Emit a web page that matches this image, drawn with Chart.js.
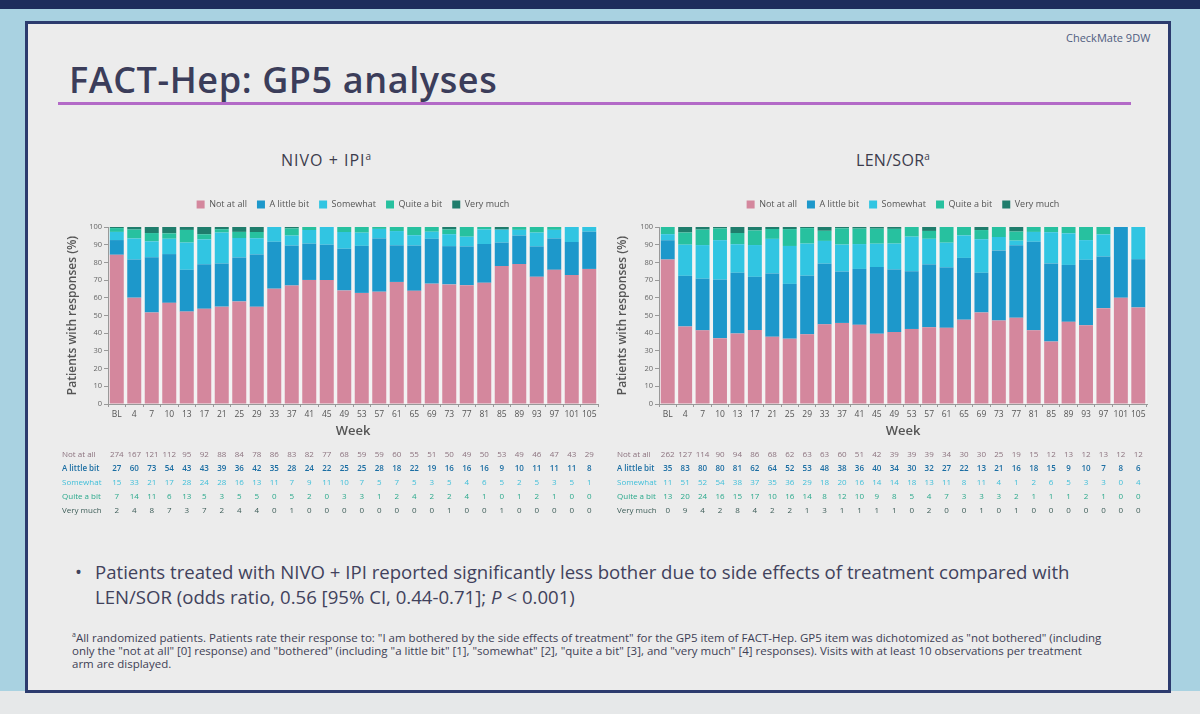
<!DOCTYPE html>
<html>
<head>
<meta charset="utf-8">
<script src="https://cdn.jsdelivr.net/npm/chart.js@4.4.1/dist/chart.umd.min.js"></script>
<style>
  html, body { margin: 0; padding: 0; }
  body { width: 1200px; height: 714px; position: relative; overflow: hidden;
         background: #e6e8e9; font-family: "Open Sans", sans-serif; }
  #topband { position: absolute; left: 0; top: 0; width: 1200px; height: 9px; background: #1e2d5c; }
  #outer { position: absolute; left: 0; top: 9px; width: 1200px; height: 682px; background: #a9d2e1; }
  #slide { position: absolute; left: 25px; top: 21px; width: 1140px; height: 666px;
           border: 3px solid #2c3b6e; background: #ececec; }
  .txt { position: absolute; white-space: nowrap; }
  #brand { left: 1066px; top: 30px; font-size: 11px; color: #4f5d80; }
  #title { left: 69px; top: 55px; font-size: 36px; font-weight: 600; color: #3b3d5a; letter-spacing: 0.6px; }
  #rule { position: absolute; left: 58px; top: 102px; width: 1073px; height: 3px; background: #b36ac7; }
  .sub { top: 149px; font-size: 16px; color: #3c3c4c; }
  #subL { left: 281px; letter-spacing: 1px; }
  #subR { left: 856px; letter-spacing: 0.3px; }
  canvas { position: absolute; }
  #bullet { left: 75px; top: 559px; font-size: 18.6px; color: #41425c; line-height: 25px; }
  #bullet span { display: inline-block; width: 20px; }
  #foot { left: 72px; top: 628px; font-size: 11.5px; color: #3e3f55; line-height: 13px; }
</style>
</head>
<body>
<div id="topband"></div>
<div id="outer"></div>
<div id="slide"></div>
<div class="txt" id="brand">CheckMate 9DW</div>
<div class="txt" id="title">FACT-Hep: GP5 analyses</div>
<div id="rule"></div>
<div class="txt sub" id="subL">NIVO + IPI<sup style="font-size:10px">a</sup></div>
<div class="txt sub" id="subR">LEN/SOR<sup style="font-size:10px">a</sup></div>
<canvas id="chartL" style="left:30px; top:190px; width:580px; height:340px"></canvas>
<canvas id="chartR" style="left:590px; top:190px; width:575px; height:340px"></canvas>
<div class="txt" id="bullet"><span>•</span>Patients treated with NIVO + IPI reported significantly less bother due to side effects of treatment compared with<br><span></span>LEN/SOR (odds ratio, 0.56 [95% CI, 0.44-0.71]; <i>P</i> &lt; 0.001)</div>
<div class="txt" id="foot"><sup style="font-size:7px">a</sup>All randomized patients. Patients rate their response to: "I am bothered by the side effects of treatment" for the GP5 item of FACT-Hep. GP5 item was dichotomized as "not bothered" (including<br>only the "not at all" [0] response) and "bothered" (including "a little bit" [1], "somewhat" [2], "quite a bit" [3], and "very much" [4] responses). Visits with at least 10 observations per treatment<br>arm are displayed.</div>

<script>
const weeks = ['BL','4','7','10','13','17','21','25','29','33','37','41','45','49','53','57','61','65','69','73','77','81','85','89','93','97','101','105'];
const responses = ['Not at all','A little bit','Somewhat','Quite a bit','Very much'];
const barColors = ['#d4879d','#1d98cb','#31c5e2','#27c19f','#1f7d6c'];
const textColors = ['#8c737f','#1b6ea3','#3fbfd9','#2aa98c','#3d5d58'];

// patient counts per response, NIVO + IPI
const nivoNotAtAll = [274,167,121,112,95,92,88,84,78,86,83,82,77,68,59,59,60,55,51,50,49,50,53,49,46,47,43,29];
const nivoLittle   = [27,60,73,54,43,43,39,36,42,35,28,24,22,25,25,28,18,22,19,16,16,16,9,10,11,11,11,8];
const nivoSomewhat = [15,33,21,17,28,24,28,16,13,11,7,9,11,10,7,5,7,5,3,5,4,6,5,2,5,3,5,1];
const nivoQuite    = [7,14,11,6,13,5,3,5,5,0,5,2,0,3,3,1,2,4,2,2,4,1,0,1,2,1,0,0];
const nivoVery     = [2,4,8,7,3,7,2,4,4,0,1,0,0,0,0,0,0,0,0,1,0,0,1,0,0,0,0,0];

// patient counts per response, LEN/SOR
const lenNotAtAll = [262,127,114,90,94,86,68,62,63,63,60,51,42,39,39,39,34,30,30,25,19,15,12,13,12,13,12,12];
const lenLittle   = [35,83,80,80,81,62,64,52,53,48,38,36,40,34,30,32,27,22,13,21,16,18,15,9,10,7,8,6];
const lenSomewhat = [11,51,52,54,38,37,35,36,29,18,20,16,14,14,18,13,11,8,11,4,1,2,6,5,3,3,0,4];
const lenQuite    = [13,20,24,16,15,17,10,16,14,8,12,10,9,8,5,4,7,3,3,3,2,1,1,1,2,1,0,0];
const lenVery     = [0,9,4,2,8,4,2,2,1,3,1,1,1,1,0,2,0,0,1,0,1,0,0,0,0,0,0,0];

const FONT = '"Open Sans", sans-serif';

// share of patients per visit (100% stacked bars)
function asPercent(rows) {
  const totals = weeks.map((w, i) => rows.reduce((s, r) => s + r[i], 0));
  return rows.map(r => r.map((v, i) => v / totals[i] * 100));
}

const legendMargin = {
  id: 'legendMargin',
  beforeInit(chart) {
    const fit = chart.legend.fit;
    chart.legend.fit = function () {
      fit.bind(chart.legend)();
      this.height += 8;
    };
  }
};

// slightly lighter plot background so the gaps between bars read pale
const plotBg = {
  id: 'plotBg',
  beforeDatasetsDraw(chart) {
    const {ctx, chartArea: a} = chart;
    ctx.save();
    ctx.fillStyle = '#f3f3f3';
    ctx.fillRect(a.left + 1, a.top, a.right - a.left - 1, a.bottom - a.top);
    ctx.restore();
  }
};

// counts table drawn under the x axis, columns lined up with the bars
const countTable = {
  id: 'countTable',
  afterDraw(chart, args, opts) {
    const ctx = chart.ctx;
    const x = chart.scales.x;
    const base = chart.chartArea.bottom;
    ctx.save();
    ctx.textBaseline = 'middle';
    opts.rows.forEach((row, r) => {
      const y = base + 51 + r * 14;
      ctx.fillStyle = textColors[r];
      ctx.font = (r === 1 ? '600 ' : '') + '8px ' + FONT;
      ctx.textAlign = 'left';
      ctx.fillText(responses[r], opts.labelX, y);
      ctx.textAlign = 'center';
      row.forEach((v, i) => ctx.fillText(String(v), x.getPixelForValue(i), y));
    });
    ctx.restore();
  }
};

function makeChart(id, rows, padLeft, padRight, yWidth, labelX) {
  const pct = asPercent(rows);
  return new Chart(document.getElementById(id), {
    type: 'bar',
    data: {
      labels: weeks,
      datasets: responses.map((name, k) => ({
        label: name,
        data: pct[k],
        backgroundColor: barColors[k],
        borderWidth: 0,
        barPercentage: 0.8,
        categoryPercentage: 1.0
      }))
    },
    options: {
      responsive: false,
      animation: false,
      layout: { padding: { left: padLeft, right: padRight, top: 0, bottom: 87 } },
      plugins: {
        legend: {
          position: 'top',
          fullSize: false,
          labels: { boxWidth: 8, boxHeight: 8, padding: 10, color: '#555', font: { size: 9, family: FONT } }
        },
        tooltip: { enabled: false },
        countTable: { rows: rows, labelX: labelX }
      },
      scales: {
        x: {
          stacked: true,
          afterFit: s => { s.height = 39; },
          grid: { display: true, drawOnChartArea: false, drawTicks: true, tickLength: 3, color: '#999' },
          border: { display: true, color: '#999' },
          ticks: { color: '#555', font: { size: 8.5, family: FONT }, maxRotation: 0, autoSkip: false, padding: 2 },
          title: { display: true, text: 'Week', color: '#555', font: { size: 13, family: FONT, weight: '600' } }
        },
        y: {
          stacked: true,
          min: 0,
          max: 100,
          afterFit: s => { s.width = yWidth; },
          grid: { display: true, drawOnChartArea: false, drawTicks: true, tickLength: 4, color: '#999' },
          border: { display: true, color: '#999' },
          ticks: { stepSize: 10, color: '#666', font: { size: 7.5, family: FONT }, padding: 2 },
          title: { display: true, text: 'Patients with responses (%)', color: '#555', font: { size: 12, family: FONT, weight: '600' }, padding: { top: 3, bottom: 3 } }
        }
      }
    },
    plugins: [legendMargin, plotBg, countTable]
  });
}

function sizeCanvas(id, w, h) {
  const c = document.getElementById(id);
  c.width = w; c.height = h;
}
sizeCanvas('chartL', 580, 340);
sizeCanvas('chartR', 575, 340);

makeChart('chartL', [nivoNotAtAll, nivoLittle, nivoSomewhat, nivoQuite, nivoVery], 32, 12, 46, 32);
makeChart('chartR', [lenNotAtAll, lenLittle, lenSomewhat, lenQuite, lenVery], 22, 18, 47, 27);
</script>
</body>
</html>
